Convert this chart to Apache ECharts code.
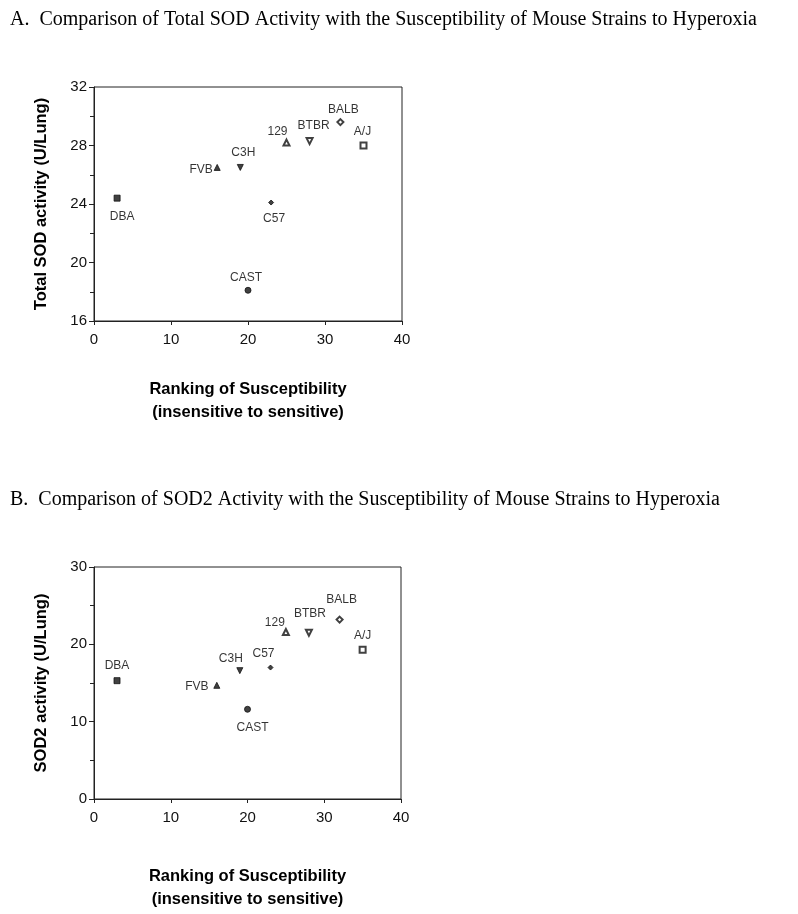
<!DOCTYPE html>
<html>
<head>
<meta charset="utf-8">
<script src="https://cdn.jsdelivr.net/npm/echarts@6/dist/echarts.min.js"></script>
<style>
html,body{margin:0;padding:0;background:#fff;}
#chart{width:798px;height:914px;}
</style>
</head>
<body>
<div id="chart"></div>
<script>
// ---- data ----
const strains   = ['DBA', 'FVB', 'C3H', 'C57', 'CAST', '129', 'BTBR', 'BALB', 'A/J'];
const ranking   = [3, 16, 19, 23, 20, 25, 28, 32, 35];
const totalSOD  = [24.4, 26.5, 26.5, 24.1, 18.1, 28.2, 28.3, 29.6, 28.0];
const sod2      = [15.3, 14.7, 16.6, 17.0, 11.6, 21.6, 21.5, 23.2, 19.3];
const xTicks    = [0, 10, 20, 30, 40];
const yTicksA   = [16, 20, 24, 28, 32];
const yTicksB   = [0, 10, 20, 30];

// ---- marker styles (per strain) ----
const markerSymbol = ['rect', 'triangle', 'triangle', 'diamond', 'circle', 'emptyTriangle', 'emptyTriangle', 'emptyDiamond', 'emptyRect'];
const markerRotate = [0, 0, 180, 0, 0, 0, 180, 0, 0];
const markerSize   = [6, 6, 6, 5, 6, 6, 6, 6, 6];
// label offsets (pixels from the point centre)
const labelOffA = [[5, 19], [-16, 2], [3, -15], [3, 16], [-2, -13], [-9, -11], [4, -15], [3, -12], [-1, -14]];
const labelOffB = [[0, -15], [-20, 1], [-9, -12], [-7, -14], [5, 18], [-11, -9], [1, -19], [2, -20], [0, -14]];

const FONT = "'Liberation Sans', Arial, Helvetica, sans-serif";
const SERIF = "'Liberation Serif', 'Times New Roman', serif";
const AX = '#222';

function buildData(yVals, offs) {
  return strains.map((s, i) => ({
    name: s,
    value: [ranking[i], yVals[i]],
    symbol: markerSymbol[i],
    symbolRotate: markerRotate[i],
    symbolSize: markerSize[i],
    label: { offset: offs[i] }
  }));
}

function xAxisCfg(gridIndex, gap) {
  return {
    gridIndex, type: 'value', min: xTicks[0], max: xTicks[xTicks.length - 1], interval: 10,
    name: 'Ranking of Susceptibility\n(insensitive to sensitive)',
    nameLocation: 'middle', nameGap: gap,
    nameTextStyle: { fontFamily: FONT, fontSize: 16.5, fontWeight: 'bold', color: '#000', lineHeight: 23 },
    axisLine: { show: true, lineStyle: { color: AX, width: 1 } },
    axisTick: { show: true, inside: false, length: 4, lineStyle: { color: AX } },
    axisLabel: { fontFamily: FONT, fontSize: 15, color: '#111', margin: 11 },
    splitLine: { show: false }
  };
}
function yAxisCfg(gridIndex, ticks, interval, name) {
  return {
    gridIndex, type: 'value', min: ticks[0], max: ticks[ticks.length - 1], interval,
    name, nameLocation: 'middle', nameGap: 44,
    nameTextStyle: { fontFamily: FONT, fontSize: 16.5, fontWeight: 'bold', color: '#000' },
    axisLine: { show: true, lineStyle: { color: AX, width: 1 } },
    axisTick: { show: true, inside: false, length: 5, lineStyle: { color: AX } },
    minorTick: { show: true, splitNumber: 2, length: 4, lineStyle: { color: AX } },
    axisLabel: { fontFamily: FONT, fontSize: 15, color: '#111', margin: 7 },
    splitLine: { show: false }
  };
}

const seriesCommon = {
  type: 'scatter',
  itemStyle: { color: '#111', borderColor: '#111', borderWidth: 1 },
  label: {
    show: true, position: 'inside', formatter: '{b}',
    fontFamily: FONT, fontSize: 12, color: '#000'
  },
  emphasis: { disabled: true }
};

const chart = echarts.init(document.getElementById('chart'), null, { renderer: 'canvas' });
chart.setOption({
  backgroundColor: '#fff',
  animation: false,
  title: [
    { text: 'A.  Comparison of Total SOD Activity with the Susceptibility of Mouse Strains to Hyperoxia',
      left: 10, top: 10, padding: 0,
      textStyle: { fontFamily: SERIF, fontSize: 20, fontWeight: 'normal', color: '#000' } },
    { text: 'B.  Comparison of SOD2 Activity with the Susceptibility of Mouse Strains to Hyperoxia',
      left: 10, top: 490, padding: 0,
      textStyle: { fontFamily: SERIF, fontSize: 20, fontWeight: 'normal', color: '#000' } }
  ],
  grid: [
    { left: 94, top: 87, width: 308, height: 234, show: true, borderColor: AX, borderWidth: 1, backgroundColor: 'transparent' },
    { left: 94, top: 567, width: 307, height: 232, show: true, borderColor: AX, borderWidth: 1, backgroundColor: 'transparent' }
  ],
  xAxis: [xAxisCfg(0, 57), xAxisCfg(1, 66)],
  yAxis: [
    yAxisCfg(0, yTicksA, 4, 'Total SOD activity (U/Lung)'),
    yAxisCfg(1, yTicksB, 10, 'SOD2 activity (U/Lung)')
  ],
  series: [
    Object.assign({}, seriesCommon, { name: 'Total SOD', xAxisIndex: 0, yAxisIndex: 0, data: buildData(totalSOD, labelOffA) }),
    Object.assign({}, seriesCommon, { name: 'SOD2', xAxisIndex: 1, yAxisIndex: 1, data: buildData(sod2, labelOffB) })
  ]
});
</script>
</body>
</html>
